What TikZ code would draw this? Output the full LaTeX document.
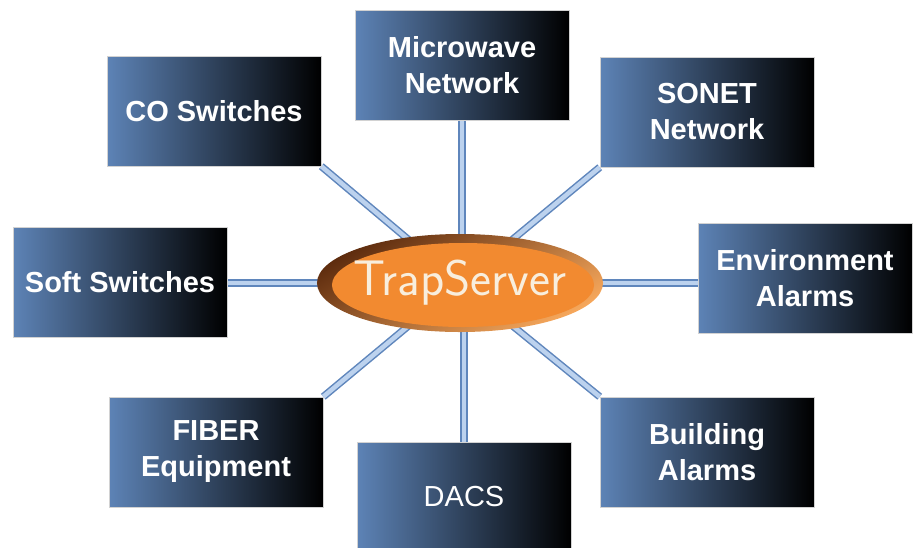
\documentclass[tikz,border=0pt]{standalone}
\usepackage{fontspec}
\newfontfamily\boxfont{Liberation Sans}
\usetikzlibrary{shapes,backgrounds}
\definecolor{boxblue}{HTML}{5D83B6}
\definecolor{linkedge}{HTML}{5F86BC}
\definecolor{linkfill}{HTML}{BCD2EE}
\definecolor{trapor}{HTML}{F28A30}
\definecolor{traprim}{HTML}{5E2C0E}
\definecolor{traplow}{HTML}{F7A85C}
\definecolor{trapink}{HTML}{F8EEDD}
\tikzset{
  sysbox/.style={rectangle, minimum width=214pt, minimum height=110pt,
    left color=boxblue, right color=black, draw=gray!35, line width=0.6pt,
    text=white, align=center, font=\boxfont\bfseries\fontsize{29}{36}\selectfont},
  link/.style={draw=linkedge, line width=1.5pt, double=linkfill, double distance=4.5pt},
}

\begin{document}
\begin{tikzpicture}[x=1pt, y=-1pt]

  \clip (0,0) rectangle (923,547);

  %% the server in the middle
  \node[ellipse, minimum width=286pt, minimum height=98pt, inner sep=0pt,
        top color=traprim, bottom color=traplow, shading angle=30,
        path picture={\fill[trapor] ([shift={(3pt,-2pt)}]path picture bounding box.center)
           ellipse (131pt and 42pt);},
        text=trapink, font=\sffamily\fontsize{50}{50}\selectfont] (ts) at (460,283)
        {\makebox[0pt]{TrapServer}};

  %% boxes round it
  \node[sysbox] (mw)   at (462, 65)  {Microwave\\Network};
  \node[sysbox] (co)   at (214,111)  {CO Switches};
  \node[sysbox] (so)   at (707,112)  {SONET\\Network};
  \node[sysbox] (soft) at (120,282)  {Soft Switches};
  \node[sysbox] (env)  at (805,278)  {Environment\\Alarms};
  \node[sysbox] (fb)   at (216,452)  {FIBER\\Equipment};
  \node[sysbox] (bd)   at (707,452)  {Building\\Alarms};
  \node[sysbox, font=\boxfont\fontsize{29}{36}\selectfont] (dacs) at (464,497) {DACS};

  \begin{pgfonlayer}{background}
    \draw[link] (mw.south) -- (mw.south |- ts.center);   % up
    \draw[link] (co.south east) -- (ts.center);
    \draw[link] (so.south west) -- (ts.center);
    \draw[link] (soft.east |- ts.center) -- (ts.center);
    \draw[link] (ts.center) -- (ts.center -| env.west);
    \draw[link] (fb.north east) -- (ts.center);
    \draw[link] (bd.north west) -- (ts.center);
    \draw[link] (dacs.north) -- (dacs.north |- ts.center); % down
  \end{pgfonlayer}

\end{tikzpicture}
\end{document}
